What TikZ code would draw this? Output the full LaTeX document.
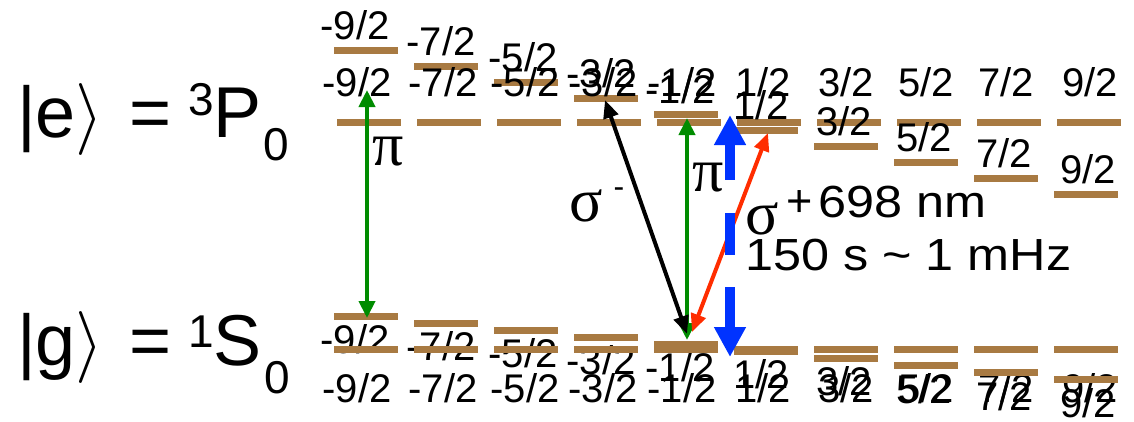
\RequirePackage{fix-cm}
\documentclass[tikz,border=0pt]{standalone}
\usepackage[no-math]{fontspec}
\setmainfont{Liberation Sans}
\newfontfamily\grk{Liberation Serif}
\usetikzlibrary{arrows.meta}
\definecolor{lvl}{RGB}{168,122,66}
\definecolor{grn}{RGB}{0,140,0}
\definecolor{redarr}{RGB}{255,45,0}
\definecolor{bluearr}{RGB}{0,51,255}
\begin{document}
\begin{tikzpicture}[x=1pt,y=-1pt,
  level/.style={draw=lvl,line width=7pt},
  mlab/.style={inner sep=0pt,anchor=center,font=\fontsize{40}{40}\selectfont},
  greek/.style={inner sep=0pt,anchor=center,font=\grk\fontsize{62}{62}\selectfont},
  big/.style={inner sep=0pt,anchor=base west},
  grnarrow/.style={draw=grn,line width=4pt,{Triangle[length=17pt,width=16pt]}-{Triangle[length=17pt,width=16pt]}},
  blkarrow/.style={draw=black,line width=4pt,{Triangle[length=18pt,width=15pt]}-{Triangle[length=18pt,width=15pt]}},
  redarrowstyle/.style={draw=redarr,line width=4pt,{Triangle[length=18pt,width=15pt]}-{Triangle[length=18pt,width=15pt]}},
  bluearrowstyle/.style={draw=bluearr,line width=10pt,{Triangle[length=30pt,width=30pt]}-{Triangle[length=30pt,width=30pt]},
    dash pattern=on 37pt off 33pt on 42pt off 32pt on 40pt}]
\useasboundingbox (0,0) rectangle (1134,421);

% ---- excited manifold ----
\foreach \k in {0,...,9}{
  \draw[level] ({337+80*\k},122) -- ++(64,0);
  \draw[level] ({334+80*\k},{50+16*\k}) -- ++(64,0);
}
\foreach \a/\lx [count=\k from 0] in {-9/357,-7/443,-5/525,-3/603,-1/682,1/763,3/846,5/926,7/1006,9/1090}{
  \node[mlab] (eu\k) at (\lx,82) {\a/2};
  \node[mlab] (es\k) at ({\lx-2},{25+16*\k}) {\a/2};
}

% ---- ground manifold ----
\foreach \a/\lx [count=\k from 0] in {-9/357,-7/443,-5/525,-3/603,-1/682,1/763,3/846,5/926,7/1006,9/1090}{
  \node[mlab] (gu\k) at (\lx,388) {\a/2};
  \node[mlab] (gs\k) at ({\lx-2},{339+7.11*\k}) {\a/2};
}
\foreach \k in {0,...,9}{
  \draw[level] ({334+80*\k},349) -- ++(64,0);
  \draw[level] ({334+80*\k},{316+7.11*\k}) -- ++(64,0);
}

% ---- state labels ----
\node[big] (ket e) at (17,137) {\fontsize{72}{72}\selectfont |e\(\rangle\)\kern26pt=};
\node[big] (term e) at (188,137) {\fontsize{46}{46}\selectfont\raisebox{22pt}{3}\fontsize{72}{72}\selectfont P\fontsize{46}{46}\selectfont\kern2pt\raisebox{-23pt}{0}};
\node[big] (ket g) at (17,365) {\fontsize{72}{72}\selectfont |g\(\rangle\)\kern26pt=};
\node[big] (term g) at (188,365) {\fontsize{46}{46}\selectfont\raisebox{18pt}{1}\fontsize{72}{72}\selectfont S\fontsize{46}{46}\selectfont\kern3pt\raisebox{-28pt}{0}};

% ---- transitions ----
\coordinate (piAtop) at (367,90);
\coordinate (piAbot) at (367,318);
\coordinate (piBtop) at (687,118);
\coordinate (piBbot) at (687,340);
\coordinate (smTop) at (605,100);
\coordinate (smBot) at (687,334);
\coordinate (spBot) at (692,332);
\coordinate (spTop) at (768,133);
\coordinate (blTop) at (730,115);
\coordinate (blBot) at (730,357);

\draw[grnarrow] (piAbot) -- (piAtop);
\draw[grnarrow] (piBbot) -- (piBtop);
\draw[redarrowstyle] (spBot) -- (spTop);
\draw[blkarrow] (smTop) -- (smBot);
\draw[bluearrowstyle] (blTop) -- (blBot);

\node[greek] (piA) at (388,152) {π};
\node[greek] (piB) at (708,178) {π};
\node[greek] (sigm) at (586,206) {σ};
\node[inner sep=0pt,font=\fontsize{32}{32}\selectfont] (sigmsign) at (619,193) {-};
\node[greek] (sigp) at (762,219) {σ};
\node[inner sep=0pt,font=\fontsize{45}{45}\selectfont] (sigpsign) at (800,204) {+};

\node[big] (wl) at (818,217) {\scalebox{1.12}[1]{\fontsize{45}{45}\selectfont 698 nm}};
\node[big] (life) at (745,270) {\scalebox{1.12}[1]{\fontsize{45}{45}\selectfont 150 s \textasciitilde{} 1 mHz}};
\end{tikzpicture}
\end{document}
